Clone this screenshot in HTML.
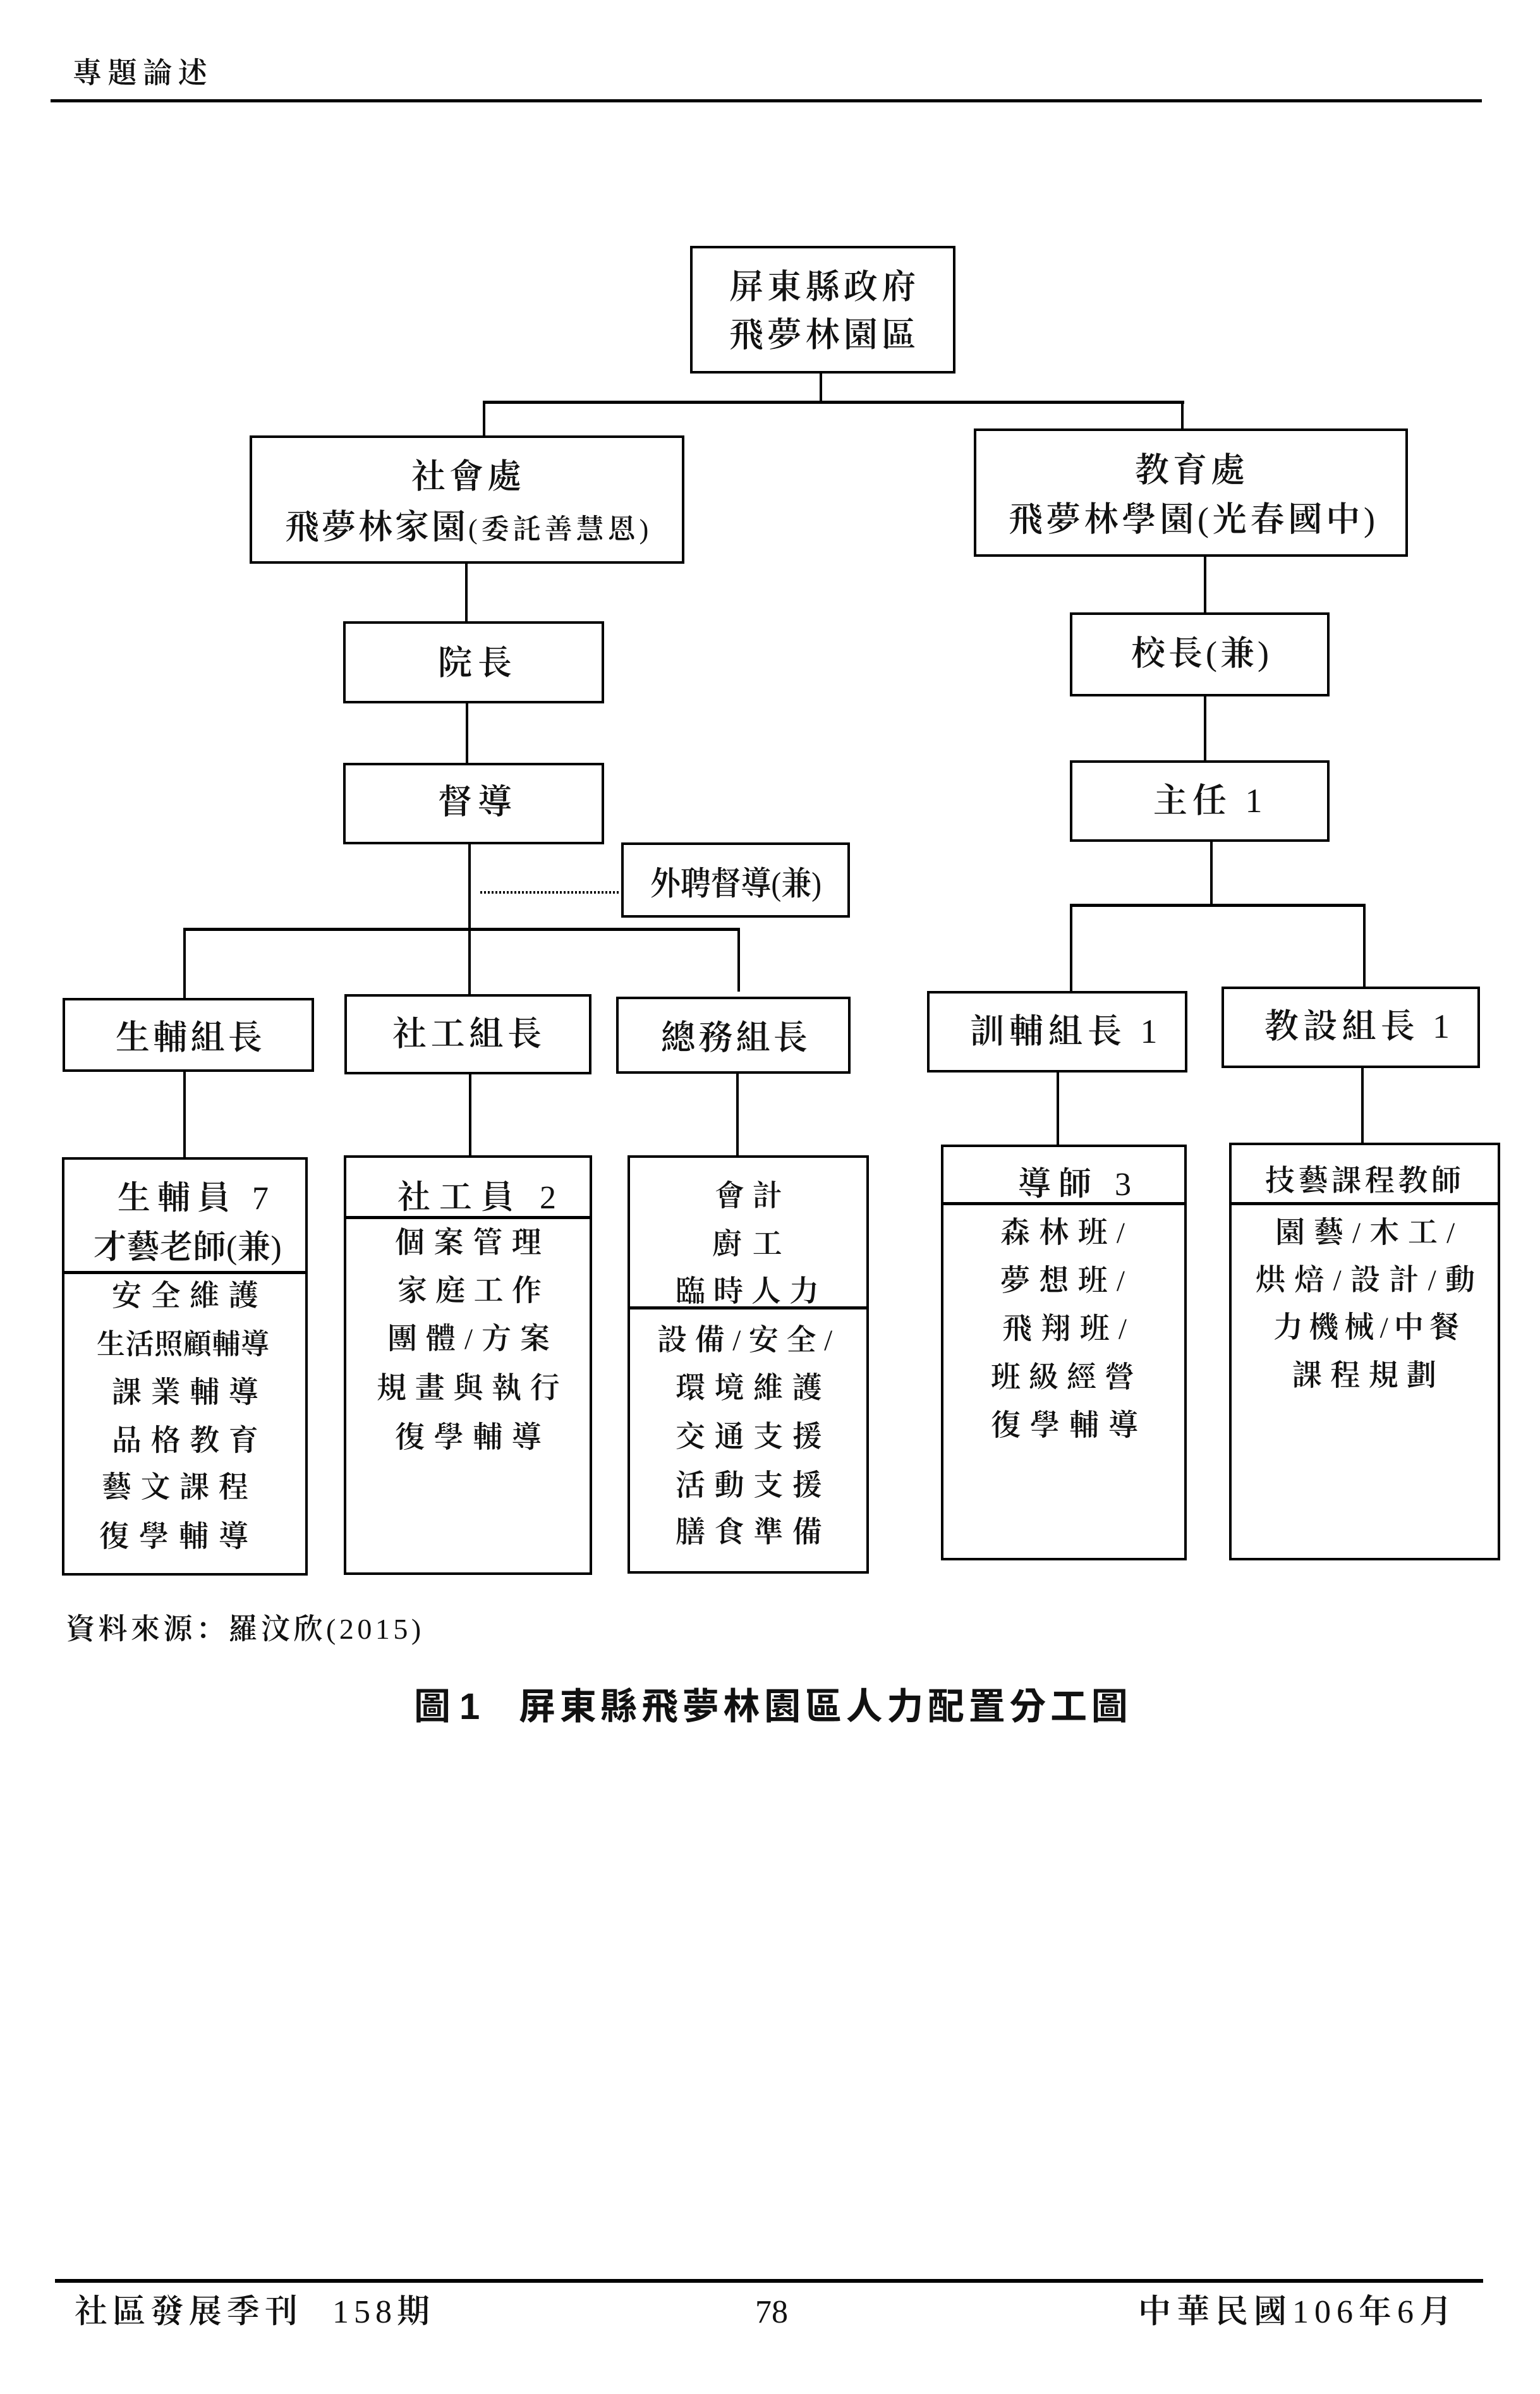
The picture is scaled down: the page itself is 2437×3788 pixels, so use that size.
<!DOCTYPE html>
<html><head><meta charset="utf-8">
<style>
html,body{margin:0;padding:0;background:#fff;}
body{width:2437px;height:3788px;position:relative;overflow:hidden;}
.s{position:absolute;white-space:nowrap;line-height:1;color:#111;font-family:"Liberation Serif","Noto Serif CJK SC",serif;font-weight:600;}
.n{font-weight:400;}
.k{position:absolute;white-space:nowrap;line-height:1;color:#111;font-family:"Liberation Sans","Noto Sans CJK TC",sans-serif;font-weight:700;}
.b{position:absolute;box-sizing:border-box;border:4px solid #000;background:#fff;}
.v{position:absolute;width:4px;background:#000;}
.h{position:absolute;height:5px;background:#000;}
.f54{font-size:54px;}
.f52{font-size:52px;}
.f47{font-size:47px;}
</style></head><body>

<!-- header -->
<div class="s" style="left:115px;top:93px;font-size:46px;letter-spacing:9.6px;">專題論述</div>
<div class="h" style="left:80px;top:157px;width:2265px;height:5px;"></div>

<!-- connectors -->
<div class="v" style="left:1297px;top:589px;height:48px;"></div>
<div class="h" style="left:764px;top:634px;width:1110px;"></div>
<div class="v" style="left:764px;top:636px;height:55px;"></div>
<div class="v" style="left:1869px;top:636px;height:44px;"></div>
<div class="v" style="left:736px;top:890px;height:95px;"></div>
<div class="v" style="left:737px;top:1111px;height:98px;"></div>
<div class="v" style="left:741px;top:1334px;height:241px;"></div>
<div style="position:absolute;left:760px;top:1410px;width:220px;height:4px;background:repeating-linear-gradient(90deg,#000 0 3px,transparent 3px 6px);"></div>
<div class="h" style="left:290px;top:1468px;width:881px;"></div>
<div class="v" style="left:290px;top:1470px;height:110px;"></div>
<div class="v" style="left:1167px;top:1470px;height:99px;"></div>
<div class="v" style="left:290px;top:1694px;height:138px;"></div>
<div class="v" style="left:742px;top:1698px;height:131px;"></div>
<div class="v" style="left:1165px;top:1697px;height:132px;"></div>

<div class="v" style="left:1905px;top:879px;height:91px;"></div>
<div class="v" style="left:1905px;top:1100px;height:104px;"></div>
<div class="v" style="left:1915px;top:1330px;height:103px;"></div>
<div class="h" style="left:1693px;top:1430px;width:468px;"></div>
<div class="v" style="left:1693px;top:1432px;height:137px;"></div>
<div class="v" style="left:2157px;top:1432px;height:130px;"></div>
<div class="v" style="left:1672px;top:1695px;height:117px;"></div>
<div class="v" style="left:2154px;top:1688px;height:121px;"></div>

<!-- boxes -->
<div class="b" style="left:1092px;top:389px;width:420px;height:202px;"></div>
<div class="b" style="left:395px;top:689px;width:688px;height:203px;"></div>
<div class="b" style="left:1541px;top:678px;width:687px;height:203px;"></div>
<div class="b" style="left:543px;top:983px;width:413px;height:130px;"></div>
<div class="b" style="left:543px;top:1207px;width:413px;height:129px;"></div>
<div class="b" style="left:983px;top:1333px;width:362px;height:119px;"></div>
<div class="b" style="left:99px;top:1579px;width:398px;height:117px;"></div>
<div class="b" style="left:545px;top:1573px;width:391px;height:127px;"></div>
<div class="b" style="left:975px;top:1577px;width:371px;height:122px;"></div>
<div class="b" style="left:1693px;top:969px;width:411px;height:133px;"></div>
<div class="b" style="left:1693px;top:1203px;width:411px;height:129px;"></div>
<div class="b" style="left:1467px;top:1568px;width:412px;height:129px;"></div>
<div class="b" style="left:1933px;top:1561px;width:409px;height:129px;"></div>
<div class="b" style="left:98px;top:1831px;width:389px;height:662px;"></div>
<div class="b" style="left:544px;top:1828px;width:393px;height:664px;"></div>
<div class="b" style="left:993px;top:1828px;width:382px;height:662px;"></div>
<div class="b" style="left:1489px;top:1811px;width:389px;height:658px;"></div>
<div class="b" style="left:1945px;top:1808px;width:429px;height:661px;"></div>
<!-- dividers -->
<div class="h" style="left:98px;top:2011px;width:389px;"></div>
<div class="h" style="left:544px;top:1924px;width:393px;"></div>
<div class="h" style="left:993px;top:2067px;width:382px;"></div>
<div class="h" style="left:1489px;top:1902px;width:389px;"></div>
<div class="h" style="left:1945px;top:1902px;width:429px;"></div>

<!-- top texts -->
<div class="s f54" style="left:1154px;top:427px;letter-spacing:6.3px;">屏東縣政府</div>
<div class="s f54" style="left:1154px;top:503px;letter-spacing:6.3px;">飛夢林園區</div>

<div class="s f54" style="left:651px;top:727px;letter-spacing:6px;">社會處</div>
<div class="s f54" style="left:451px;top:807px;letter-spacing:4px;">飛夢林家園<span style="font-size:44px;letter-spacing:6px;"><span class="n">(</span>委託善慧恩<span class="n">)</span></span></div>

<div class="s f54" style="left:1796px;top:717px;letter-spacing:6px;">教育處</div>
<div class="s f54" style="left:1596px;top:795px;letter-spacing:5.8px;">飛夢林學園<span class="n">(</span>光春國中<span class="n">)</span></div>

<div class="s f54" style="left:693px;top:1022px;letter-spacing:9px;">院長</div>
<div class="s f54" style="left:693px;top:1242px;letter-spacing:9px;">督導</div>
<div class="s f52" style="left:1029px;top:1374px;letter-spacing:0px;transform:scaleX(0.92);transform-origin:0 0;">外聘督導<span class="n">(</span>兼<span class="n">)</span></div>

<div class="s f54" style="left:183px;top:1615px;letter-spacing:5.3px;">生輔組長</div>
<div class="s f54" style="left:621px;top:1609px;letter-spacing:6.7px;">社工組長</div>
<div class="s f54" style="left:1046px;top:1615px;letter-spacing:5.3px;">總務組長</div>

<div class="s f54" style="left:1790px;top:1007px;letter-spacing:5px;">校長<span class="n">(</span>兼<span class="n">)</span></div>
<div class="s f54" style="left:1825px;top:1240px;letter-spacing:8px;">主任 <span class="n">1</span></div>
<div class="s f54" style="left:1535px;top:1605px;letter-spacing:8px;">訓輔組長 <span class="n">1</span></div>
<div class="s f54" style="left:2001px;top:1597px;letter-spacing:7.3px;">教設組長 <span class="n">1</span></div>

<!-- 生輔員 box -->
<div class="s f52" style="left:186px;top:1871px;letter-spacing:11px;">生輔員 <span class="n">7</span></div>
<div class="s f52" style="left:148px;top:1949px;letter-spacing:0.5px;">才藝老師<span class="n">(</span>兼<span class="n">)</span></div>
<div class="s f47" style="left:177px;top:2028px;letter-spacing:14.6px;">安全維護</div>
<div class="s" style="left:153px;top:2105px;font-size:45px;letter-spacing:0.6px;">生活照顧輔導</div>
<div class="s f47" style="left:177px;top:2181px;letter-spacing:14.6px;">課業輔導</div>
<div class="s f47" style="left:177px;top:2257px;letter-spacing:14.6px;">品格教育</div>
<div class="s f47" style="left:161px;top:2331px;letter-spacing:14.6px;">藝文課程</div>
<div class="s f47" style="left:157px;top:2409px;letter-spacing:16px;">復學輔導</div>

<!-- 社工員 box -->
<div class="s f52" style="left:629px;top:1870px;letter-spacing:14px;">社工員 <span class="n">2</span></div>
<div class="s f47" style="left:625px;top:1944px;letter-spacing:14.6px;">個案管理</div>
<div class="s f47" style="left:629px;top:2020px;letter-spacing:13.3px;">家庭工作</div>
<div class="s f47" style="left:613px;top:2096px;letter-spacing:14px;">團體<span class="n">/</span>方案</div>
<div class="s f47" style="left:596px;top:2174px;letter-spacing:13.7px;">規畫與執行</div>
<div class="s f47" style="left:625px;top:2252px;letter-spacing:14.6px;">復學輔導</div>

<!-- 會計 box -->
<div class="s f47" style="left:1131px;top:1870px;letter-spacing:12.8px;">會計</div>
<div class="s f47" style="left:1127px;top:1946px;letter-spacing:16.8px;">廚工</div>
<div class="s f47" style="left:1069px;top:2021px;letter-spacing:13px;">臨時人力</div>
<div class="s f47" style="left:1040px;top:2098px;letter-spacing:12.6px;">設備<span class="n">/</span>安全<span class="n">/</span></div>
<div class="s f47" style="left:1069px;top:2174px;letter-spacing:14.6px;">環境維護</div>
<div class="s f47" style="left:1069px;top:2251px;letter-spacing:14.6px;">交通支援</div>
<div class="s f47" style="left:1069px;top:2328px;letter-spacing:14.6px;">活動支援</div>
<div class="s f47" style="left:1069px;top:2402px;letter-spacing:14.6px;">膳食準備</div>

<!-- 導師 box -->
<div class="s f52" style="left:1611px;top:1849px;letter-spacing:12px;">導師 <span class="n">3</span></div>
<div class="s f47" style="left:1583px;top:1928px;letter-spacing:14.3px;">森林班<span class="n">/</span></div>
<div class="s f47" style="left:1583px;top:2004px;letter-spacing:14.3px;">夢想班<span class="n">/</span></div>
<div class="s f47" style="left:1586px;top:2080px;letter-spacing:14.3px;">飛翔班<span class="n">/</span></div>
<div class="s f47" style="left:1568px;top:2157px;letter-spacing:13px;">班級經營</div>
<div class="s f47" style="left:1568px;top:2233px;letter-spacing:15px;">復學輔導</div>

<!-- 技藝 box -->
<div class="s f47" style="left:2002px;top:1846px;letter-spacing:5.6px;">技藝課程教師</div>
<div class="s f47" style="left:2018px;top:1928px;letter-spacing:14px;">園藝<span class="n">/</span>木工<span class="n">/</span></div>
<div class="s f47" style="left:1987px;top:2003px;letter-spacing:14.3px;">烘焙<span class="n">/</span>設計<span class="n">/</span>動</div>
<div class="s f47" style="left:2015px;top:2078px;letter-spacing:9.2px;">力機械<span class="n">/</span>中餐</div>
<div class="s f47" style="left:2045px;top:2154px;letter-spacing:13.3px;">課程規劃</div>

<!-- source & caption -->
<div class="s" style="left:104px;top:2555px;font-size:46px;letter-spacing:5.5px;">資料來源：羅汶欣<span class="n">(2015)</span></div>
<div class="k" style="left:655px;top:2672px;font-size:58px;letter-spacing:14px;">圖1</div>
<div class="k" style="left:821px;top:2672px;font-size:58px;letter-spacing:6.7px;">屏東縣飛夢林園區人力配置分工圖</div>

<!-- footer -->
<div class="h" style="left:87px;top:3606px;width:2260px;height:6px;"></div>
<div class="s" style="left:118px;top:3633px;font-size:52px;letter-spacing:8.2px;">社區發展季刊</div>
<div class="s" style="left:526px;top:3633px;font-size:52px;letter-spacing:8px;"><span class="n">158</span>期</div>
<div class="s n" style="left:1195px;top:3633px;font-size:52px;">78</div>
<div class="s" style="left:1801px;top:3633px;font-size:52px;letter-spacing:9px;">中華民國<span class="n">106</span>年<span class="n">6</span>月</div>

</body></html>
